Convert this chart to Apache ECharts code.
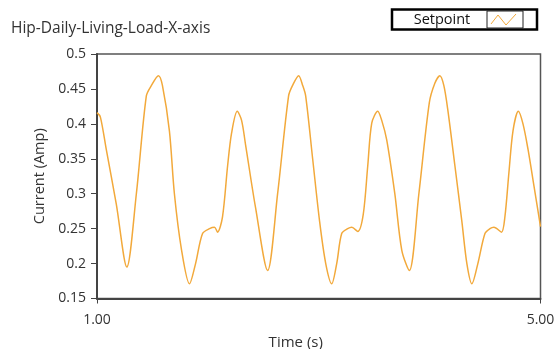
<!DOCTYPE html>
<html>
<head>
<meta charset="utf-8">
<script src="https://cdn.jsdelivr.net/npm/echarts@6/dist/echarts.min.js"></script>
<style>
  html, body { margin: 0; padding: 0; background: #fff; }
  #chart { width: 554px; height: 349px; }
</style>
</head>
<body>
<div id="chart"></div>
<script>
// time (s) and setpoint current (Amp)
var times = [1.00, 1.03, 1.084, 1.174, 1.269, 1.355, 1.445, 1.491, 1.554, 1.590,
    1.653, 1.698, 1.762, 1.834, 1.889, 1.952, 2.015, 2.060, 2.087, 2.132,
    2.178, 2.214, 2.265, 2.304, 2.340, 2.430, 2.539, 2.629, 2.728, 2.764,
    2.819, 2.855, 2.882, 2.945, 3.008, 3.063, 3.117, 3.162, 3.207, 3.261,
    3.298, 3.352, 3.401, 3.442, 3.478, 3.532, 3.568, 3.613, 3.686, 3.749,
    3.817, 3.903, 3.997, 4.047, 4.092, 4.128, 4.164, 4.228, 4.291, 4.336,
    4.381, 4.435, 4.499, 4.544, 4.580, 4.648, 4.679, 4.715, 4.752, 4.800,
    4.842, 4.888, 4.942, 5.000];
var setpoint = [0.416, 0.410, 0.363, 0.285, 0.195, 0.300, 0.440, 0.455, 0.469, 0.455,
    0.390, 0.300, 0.220, 0.171, 0.200, 0.243, 0.250, 0.252, 0.245, 0.267,
    0.340, 0.387, 0.418, 0.405, 0.370, 0.280, 0.190, 0.300, 0.440, 0.455,
    0.469, 0.455, 0.440, 0.350, 0.260, 0.200, 0.171, 0.200, 0.243, 0.250,
    0.252, 0.246, 0.270, 0.340, 0.401, 0.418, 0.405, 0.377, 0.300, 0.219,
    0.190, 0.300, 0.430, 0.458, 0.469, 0.455, 0.420, 0.340, 0.260, 0.200,
    0.171, 0.200, 0.243, 0.250, 0.252, 0.245, 0.267, 0.330, 0.390, 0.418,
    0.400, 0.363, 0.310, 0.253];

var chartTitle = 'Hip-Daily-Living-Load-X-axis';
var seriesName = 'Setpoint';

const font = '"Open Sans", "Noto Sans", sans-serif';
const chartDom = document.getElementById('chart');
const chart = echarts.init(chartDom, null, { renderer: 'canvas' });

const points = times.map(function (t, i) {
    return [t, setpoint[i]];
});

const option = {
    animation: false,
    textStyle: { fontFamily: font },
    title: {
        text: chartTitle,
        left: 11,
        top: 21,
        padding: 0,
        textStyle: { fontSize: 15.5, fontWeight: 'normal', color: '#333', fontFamily: font }
    },
    grid: {
        left: 97,
        right: 13.5,
        top: 54,
        bottom: 50.5,
        outerBoundsMode: 'none',
        containLabel: false,
        show: true,
        borderColor: '#555',
        borderWidth: 1.5
    },
    xAxis: {
        type: 'value',
        min: 1,
        max: 5,
        interval: 4,
        name: 'Time (s)',
        nameLocation: 'middle',
        nameGap: 37,
        nameTextStyle: { fontSize: 15, color: '#333', padding: [0, 46, 0, 0] },
        axisLine: { show: true, lineStyle: { color: '#444', width: 2 } },
        axisTick: { show: true, length: 5, lineStyle: { color: '#444' } },
        axisLabel: {
            margin: 15,
            fontSize: 14,
            color: '#333',
            formatter: function (v) { return v.toFixed(2); }
        },
        splitLine: { show: false }
    },
    yAxis: {
        type: 'value',
        min: 0.15,
        max: 0.5,
        interval: 0.05,
        name: 'Current (Amp)',
        nameLocation: 'middle',
        nameGap: 44,
        nameTextStyle: { fontSize: 14.5, color: '#333' },
        axisLine: { show: true, lineStyle: { color: '#444', width: 2 } },
        axisTick: { show: true, length: 6, lineStyle: { color: '#444' } },
        axisLabel: {
            margin: 11,
            fontSize: 14,
            color: '#333',
            formatter: function (v) { return String(+v.toFixed(2)); }
        },
        splitLine: { show: false }
    },
    graphic: [
        {
            type: 'rect',
            shape: { x: 392, y: 9.5, width: 145, height: 20 },
            style: { fill: '#fff', stroke: '#000', lineWidth: 2.5 }
        },
        {
            type: 'rect',
            shape: { x: 487, y: 11, width: 36, height: 17 },
            style: { fill: '#fff', stroke: '#222', lineWidth: 1 }
        },
        {
            type: 'polyline',
            shape: { points: [[491, 24], [498, 15], [506, 25], [516, 14]] },
            style: { stroke: '#F2A93B', lineWidth: 1, fill: null }
        },
        {
            type: 'text',
            x: 442,
            y: 20,
            style: {
                text: seriesName,
                font: '14.5px ' + font,
                fill: '#111',
                textAlign: 'center',
                textVerticalAlign: 'middle'
            }
        }
    ],
    series: [
        {
            name: seriesName,
            type: 'line',
            data: points,
            showSymbol: false,
            smooth: 0.3,
            lineStyle: { color: '#F2A93B', width: 1.5 },
            itemStyle: { color: '#F2A93B' }
        }
    ]
};

option && chart.setOption(option);
</script>
</body>
</html>
